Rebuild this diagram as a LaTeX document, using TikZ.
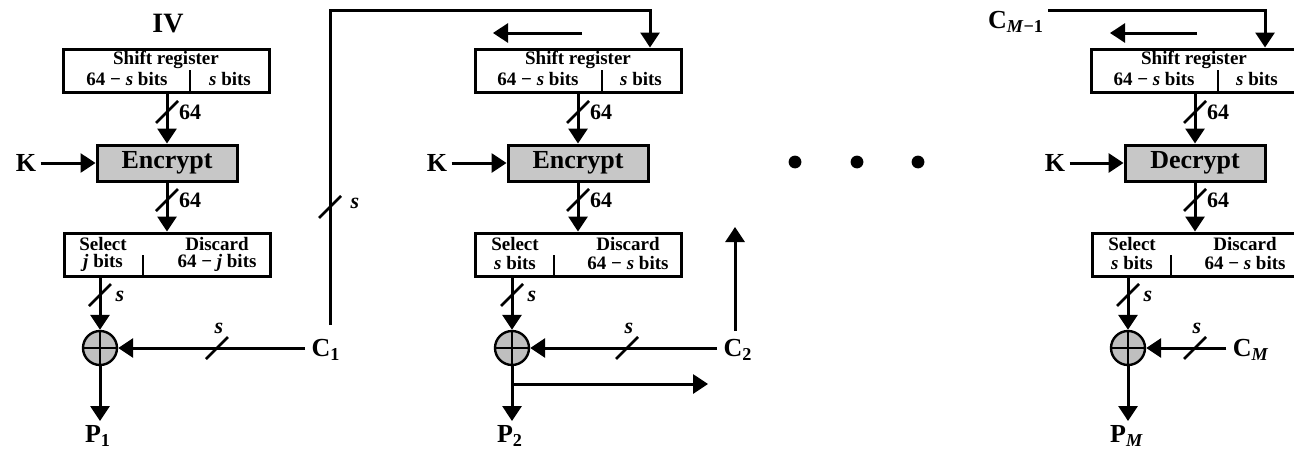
\documentclass[tikz,border=0pt]{standalone}
\usepackage{fontspec}
\setmainfont{Liberation Serif}
\usetikzlibrary{arrows.meta, positioning, calc}

\begin{document}
\begin{tikzpicture}[x=0.5pt, y=-0.5pt,
    reg/.style={rectangle, draw, line width=1.5pt, minimum width=103pt, minimum height=21.5pt, inner sep=0pt},
    cipher/.style={rectangle, draw, fill=black!22, line width=1.5pt, minimum width=70pt, minimum height=18pt, inner sep=0pt, font=\fontsize{13}{15}\selectfont\bfseries},
    xorop/.style={circle, draw, fill=black!25, line width=1.2pt, minimum size=17pt, inner sep=0pt},
    lab/.style={inner sep=2pt, font=\fontsize{13}{15}\selectfont\bfseries},
    txt/.style={inner sep=0pt, font=\fontsize{9.5}{11}\selectfont\bfseries},
    bw/.style={inner sep=0pt, font=\fontsize{11}{13}\selectfont\bfseries},
    line/.style={draw, -{Triangle[length=7.5pt, width=9.5pt]}, line width=1.5pt},
    wire/.style={draw, line width=1.5pt},
    thin/.style={draw, line width=1.1pt},
    cut/.pic={\draw[line width=1.3pt] (-11,11) -- (11,-11);}]

    \useasboundingbox (0,0) rectangle (1294,455);

    % first stage
    \node [lab, font=\fontsize{14}{16}\selectfont\bfseries] (iv) at (168,24) {IV};
    \node [reg] (sr1) at (166,70.5) {};
    \node [txt] at ($(sr1)+(0,-10.5)$) {Shift register};
    \node [txt] at ($(sr1)+(-39,8.5)$) {64 − \textit{s} bits};
    \node [txt] at ($(sr1)+(64,8.5)$) {\textit{s} bits};
    \node [cipher] (enc1) at (167,163) {Encrypt};
    \node [reg] (sel1) at (167,254.5) {};
    \node [txt] at ($(sel1)+(-64,-10.5)$) {Select};
    \node [txt] at ($(sel1)+(-64,8)$) {\textit{j} bits};
    \node [txt] at ($(sel1)+(50,-10.5)$) {Discard};
    \node [txt] at ($(sel1)+(50,8)$) {64 − \textit{j} bits};
    \node [xorop] (xor1) at (100,348) {};
    \node [lab] (k1) at (26,163) {K};
    \node [lab, inner sep=3pt] (c1) at (326,350) {C\textsubscript{1}};
    \node [lab, anchor=north] (p1) at (98,421) {P\textsubscript{1}};

    % second stage
    \node [reg] (sr2) at (578,70.5) {};
    \node [txt] at ($(sr2)+(0,-10.5)$) {Shift register};
    \node [txt] at ($(sr2)+(-40,8.5)$) {64 − \textit{s} bits};
    \node [txt] at ($(sr2)+(63,8.5)$) {\textit{s} bits};
    \node [cipher] (enc2) at (578,163) {Encrypt};
    \node [reg] (sel2) at (578,254.5) {};
    \node [txt] at ($(sel2)+(-63,-10.5)$) {Select};
    \node [txt] at ($(sel2)+(-63,8)$) {\textit{s} bits};
    \node [txt] at ($(sel2)+(50,-10.5)$) {Discard};
    \node [txt] at ($(sel2)+(50,8)$) {64 − \textit{s} bits};
    \node [xorop] (xor2) at (512,348) {};
    \node [lab] (k2) at (437,163) {K};
    \node [lab, inner sep=3pt] (c2) at (738,350) {C\textsubscript{2}};
    \node [lab, anchor=north] (p2) at (510,421) {P\textsubscript{2}};

    % last stage
    \node [lab] (cm1) at (1016,22) {C\textsubscript{\textit{M}−1}};
    \node [reg] (sr3) at (1194,70.5) {};
    \node [txt] at ($(sr3)+(0,-10.5)$) {Shift register};
    \node [txt] at ($(sr3)+(-40,8.5)$) {64 − \textit{s} bits};
    \node [txt] at ($(sr3)+(63,8.5)$) {\textit{s} bits};
    \node [cipher] (dec3) at (1195,163) {Decrypt};
    \node [reg] (sel3) at (1195,254.5) {};
    \node [txt] at ($(sel3)+(-63,-10.5)$) {Select};
    \node [txt] at ($(sel3)+(-63,8)$) {\textit{s} bits};
    \node [txt] at ($(sel3)+(50,-10.5)$) {Discard};
    \node [txt] at ($(sel3)+(50,8)$) {64 − \textit{s} bits};
    \node [xorop] (xor3) at (1128,348) {};
    \node [lab] (k3) at (1055,163) {K};
    \node [lab, inner sep=3pt] (cm) at (1251,350) {C\textsubscript{\textit{M}}};
    \node [lab, anchor=north] (pm) at (1127,421) {P\textsubscript{\textit{M}}};

    \coordinate (fb2) at (650,10);
    \coordinate (fb3) at (1265,10);
    \coordinate (shA2) at (582,33);
    \coordinate (shB2) at (493,33);
    \coordinate (shA3) at (1197,33);
    \coordinate (shB3) at (1110,33);
    \coordinate (out2) at (708,384);
    \coordinate (up2) at (735,227);

    % dividers and xor crosses
    \foreach \r in {sr1, sr2, sr3}
        \path [thin] ($(\r.south)+(24,0)$) -- ++(0,-24);
    \foreach \s in {sel1, sel2, sel3}
        \path [thin] ($(\s.south)+(-24,0)$) -- ++(0,-23);
    \foreach \x in {xor1, xor2, xor3} {
        \path [thin] (\x.north) -- (\x.south);
        \path [thin] (\x.west) -- (\x.east);
    }

    % connectors
    \path [line] (enc1 |- sr1.south) -- (enc1.north);
    \path [line] (enc1.south) -- (sel1.north);
    \path [line] (k1) -- (enc1);
    \path [line] (xor1 |- sel1.south) -- (xor1.north);
    \path [line] (xor1.east -| c1.west) -- (xor1.east);
    \path [line] (xor1.south) -- (xor1 |- p1.north);

    \path [line] ([xshift=2pt, yshift=4pt]c1.north) |- (fb2) -- (fb2 |- sr2.north);
    \path [line] (shA2) -- (shB2);
    \path [line] (enc2 |- sr2.south) -- (enc2.north);
    \path [line] (enc2.south) -- (sel2.north);
    \path [line] (k2) -- (enc2);
    \path [line] (xor2 |- sel2.south) -- (xor2.north);
    \path [line] (xor2.east -| c2.west) -- (xor2.east);
    \path [line] (xor2.south) -- (xor2 |- p2.north);
    \path [line] (xor2 |- out2) -- (out2);
    \path [line] ([yshift=1pt]c2.north -| up2) -- (up2);

    \path [line] (cm1.east |- fb3) -- (fb3) -- (fb3 |- sr3.north);
    \path [line] (shA3) -- (shB3);
    \path [line] (dec3 |- sr3.south) -- (dec3.north);
    \path [line] (dec3.south) -- (sel3.north);
    \path [line] (k3) -- (dec3);
    \path [line] (xor3 |- sel3.south) -- (xor3.north);
    \path [line] (xor3.east -| cm.west) -- (xor3.east);
    \path [line] (xor3.south) -- (xor3 |- pm.north);

    % bus widths
    \pic at (167,112) {cut};  \node [bw] at (190,112) {64};
    \pic at (167,200) {cut};  \node [bw] at (190,200) {64};
    \pic at (100,295) {cut};  \node [bw] at (120,296) {\textit{s}};
    \pic at (217,348) {cut};  \node [bw] at (219,328) {\textit{s}};
    \pic at (330,207) {cut};  \node [bw] at (355,203) {\textit{s}};
    \pic at (578,112) {cut};  \node [bw] at (601,112) {64};
    \pic at (578,200) {cut};  \node [bw] at (601,200) {64};
    \pic at (512,295) {cut};  \node [bw] at (532,296) {\textit{s}};
    \pic at (627,348) {cut};  \node [bw] at (629,328) {\textit{s}};
    \pic at (1195,112) {cut};  \node [bw] at (1218,112) {64};
    \pic at (1195,200) {cut};  \node [bw] at (1218,200) {64};
    \pic at (1128,295) {cut};  \node [bw] at (1148,296) {\textit{s}};
    \pic at (1195,348) {cut};  \node [bw] at (1197,328) {\textit{s}};

    % ellipsis between stages
    \foreach \d in {795, 857, 918}
        \fill (\d,162) circle (3.2pt);
\end{tikzpicture}
\end{document}
